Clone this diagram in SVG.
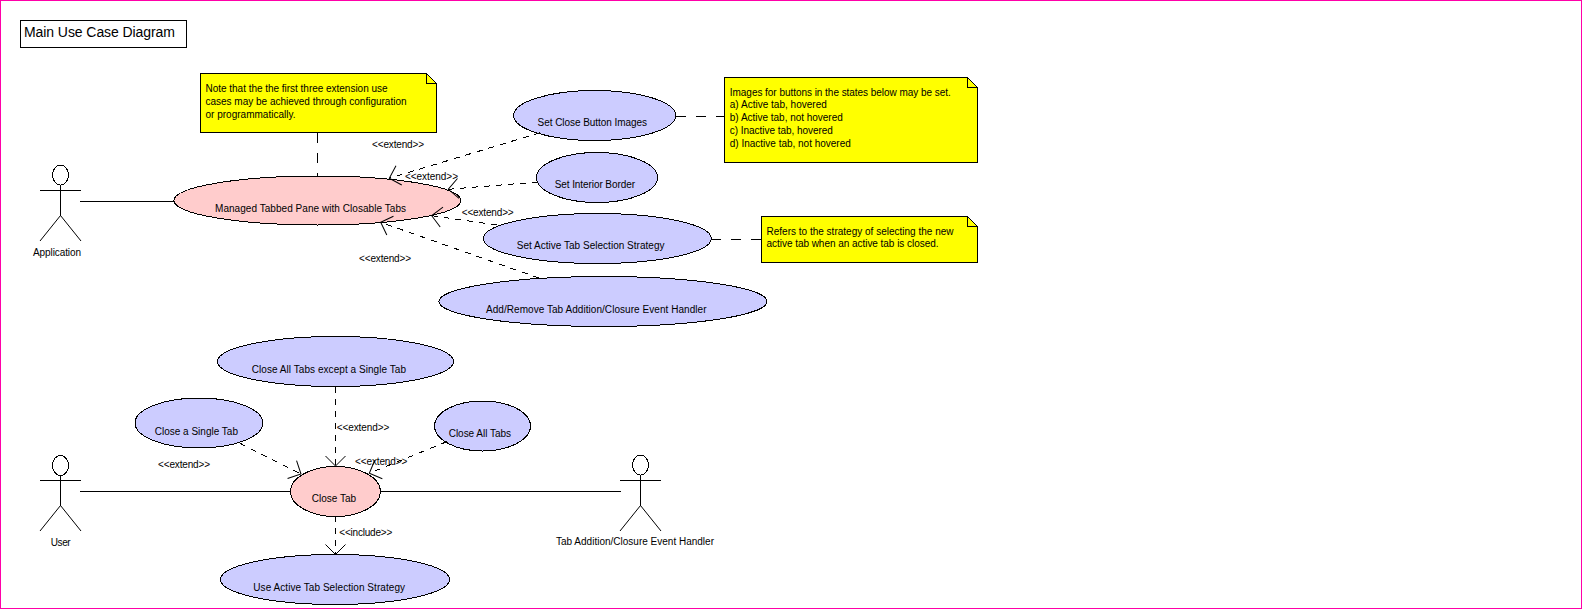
<svg xmlns="http://www.w3.org/2000/svg" width="1582" height="609" viewBox="0 0 1582 609">
<style>
text{font-family:"Liberation Sans",Arial,sans-serif;font-size:10px;fill:#000}
.s{fill:none;stroke:#000;stroke-width:1;shape-rendering:crispEdges}
.uc,.note,.box{stroke:#000;stroke-width:1;shape-rendering:crispEdges}
.red{fill:#ffcccc}.blue{fill:#ccccff}.note{fill:#ffff00}.box{fill:#fff}
.assoc{fill:none;stroke:#000;stroke-width:1;shape-rendering:crispEdges}
.anchor{fill:none;stroke:#000;stroke-width:1;stroke-dasharray:10 10;shape-rendering:crispEdges}
.dep{fill:none;stroke:#000;stroke-width:1;stroke-dasharray:6 6;shape-rendering:crispEdges;marker-end:url(#open)}
</style>
<defs>
<marker id="open" markerUnits="userSpaceOnUse" markerWidth="24" markerHeight="30" refX="12" refY="15" viewBox="0 0 24 30" orient="auto" overflow="visible">
<path d="M2 5L12 15L2 25" fill="none" stroke="#000" stroke-width="1"/>
</marker>
</defs>
<rect x="0" y="0" width="1582" height="609" fill="#fff"/>
<rect x="0.5" y="0.5" width="1581" height="608" fill="none" stroke="#ff00a8" stroke-width="1" shape-rendering="crispEdges"/>

<g id="title"><rect class="box" x="20.5" y="20.5" width="166" height="27"/><text x="24" y="37" style="font-size:14px" textLength="151">Main Use Case Diagram</text></g>

<g id="note-config"><path class="note" d="M200.5 73.5H426.5L436.5 83.5V132.5H200.5Z"/><path class="s" d="M426.5 73.5V83.5H436.5"/>
<text x="205.5" y="91.5" textLength="182">Note that the the first three extension use</text>
<text x="205.5" y="104.5" textLength="201">cases may be achieved through configuration</text>
<text x="205.5" y="117.5" textLength="90">or programmatically.</text></g>

<g id="note-images"><path class="note" d="M724.5 77.5H967.5L977.5 87.5V162.5H724.5Z"/><path class="s" d="M967.5 77.5V87.5H977.5"/>
<text x="729.8" y="95.5" textLength="221">Images for buttons in the states below may be set.</text>
<text x="729.8" y="108" textLength="97">a) Active tab, hovered</text>
<text x="729.8" y="121" textLength="113">b) Active tab, not hovered</text>
<text x="729.8" y="134" textLength="103">c) Inactive tab, hovered</text>
<text x="729.8" y="147" textLength="121">d) Inactive tab, not hovered</text></g>

<g id="note-strategy"><path class="note" d="M761.5 216.5H967.5L977.5 226.5V262.5H761.5Z"/><path class="s" d="M967.5 216.5V226.5H977.5"/>
<text x="766.5" y="234.5" textLength="187">Refers to the strategy of selecting the new</text>
<text x="766.5" y="247" textLength="172">active tab when an active tab is closed.</text></g>

<g id="actor-application"><ellipse class="s" cx="60.5" cy="175" rx="8" ry="10"/><path class="s" d="M40 190.5H81M60.5 185V215.5"/><path class="s" style="shape-rendering:auto" d="M40 241L60.5 215.5L81 241"/><text x="33" y="256" textLength="48">Application</text></g>
<g id="actor-user"><ellipse class="s" cx="60.5" cy="465.5" rx="8" ry="10"/><path class="s" d="M40 480.5H81M60.5 475V505.5"/><path class="s" style="shape-rendering:auto" d="M40 531L60.5 505.5L81 531"/><text x="50.7" y="546" textLength="20">User</text></g>
<g id="actor-handler"><ellipse class="s" cx="640.5" cy="465" rx="8" ry="10"/><path class="s" d="M620 480.5H661M640.5 475V505.5"/><path class="s" style="shape-rendering:auto" d="M620 531L640.5 505.5L661 531"/><text x="556" y="545" textLength="158">Tab Addition/Closure Event Handler</text></g>

<g id="uc-managed"><ellipse class="uc red" cx="317.5" cy="200.5" rx="143.5" ry="24.5"/><text x="215" y="212" textLength="191">Managed Tabbed Pane with Closable Tabs</text></g>
<g id="uc-close-images"><ellipse class="uc blue" cx="594.7" cy="115.5" rx="81" ry="25"/><text x="537.6" y="126" textLength="109.4">Set Close Button Images</text></g>
<g id="uc-interior"><ellipse class="uc blue" cx="597" cy="177.5" rx="60.5" ry="25"/><text x="554.7" y="187.7" textLength="80.3">Set Interior Border</text></g>
<g id="uc-strategy"><ellipse class="uc blue" cx="597.3" cy="238.5" rx="114" ry="25"/><text x="516.7" y="249" textLength="147.8">Set Active Tab Selection Strategy</text></g>
<g id="uc-handler"><ellipse class="uc blue" cx="603" cy="301.5" rx="164" ry="25"/><text x="486" y="312.5" textLength="220.5">Add/Remove Tab Addition/Closure Event Handler</text></g>
<g id="uc-except"><ellipse class="uc blue" cx="335.5" cy="361.5" rx="118" ry="25"/><text x="251.7" y="372.5" textLength="154.3">Close All Tabs except a Single Tab</text></g>
<g id="uc-single"><ellipse class="uc blue" cx="199" cy="423" rx="64" ry="25"/><text x="154.7" y="434.5" textLength="83.3">Close a Single Tab</text></g>
<g id="uc-all"><ellipse class="uc blue" cx="482.5" cy="426" rx="48" ry="25"/><text x="448.7" y="437" textLength="62.3">Close All Tabs</text></g>
<g id="uc-close"><ellipse class="uc red" cx="335.5" cy="491.5" rx="45" ry="25"/><text x="311.7" y="502" textLength="44.3">Close Tab</text></g>
<g id="uc-use"><ellipse class="uc blue" cx="335" cy="579.5" rx="114.5" ry="25"/><text x="253.3" y="590.5" textLength="151.7">Use Active Tab Selection Strategy</text></g>

<g id="connectors">
<path class="assoc" d="M80 201.5H174"/>
<path class="assoc" d="M80 491.5H291"/>
<path class="assoc" d="M380 491.5H621"/>
<path class="anchor" d="M317.5 133V176"/>
<path class="anchor" d="M676 116.5H724"/>
<path class="anchor" d="M711 239.5H761"/>
<path class="dep" d="M540 132.7L389.3 178.3"/>
<path class="dep" d="M538 182L448.3 189.3"/>
<path class="dep" d="M497 225L431.7 215.7"/>
<path class="dep" d="M538.8 278L380.7 222.3"/>
<path class="dep" d="M335.5 387V466"/>
<path class="dep" d="M240 443.3L301 474"/>
<path class="dep" d="M446.7 441.7L369.3 473.3"/>
<path class="dep" d="M335.5 516V554.5"/>
</g>

<g id="connector-labels">
<text x="372" y="148" textLength="52">&lt;&lt;extend&gt;&gt;</text>
<text x="405" y="179.5" textLength="53">&lt;&lt;extend&gt;&gt;</text>
<text x="461.7" y="215.5" textLength="52">&lt;&lt;extend&gt;&gt;</text>
<text x="359" y="261.5" textLength="52">&lt;&lt;extend&gt;&gt;</text>
<text x="336.7" y="431" textLength="52.6">&lt;&lt;extend&gt;&gt;</text>
<text x="158" y="467.5" textLength="52">&lt;&lt;extend&gt;&gt;</text>
<text x="355" y="464.5" textLength="52.3">&lt;&lt;extend&gt;&gt;</text>
<text x="339.3" y="536" textLength="53">&lt;&lt;include&gt;&gt;</text>
</g>
</svg>
